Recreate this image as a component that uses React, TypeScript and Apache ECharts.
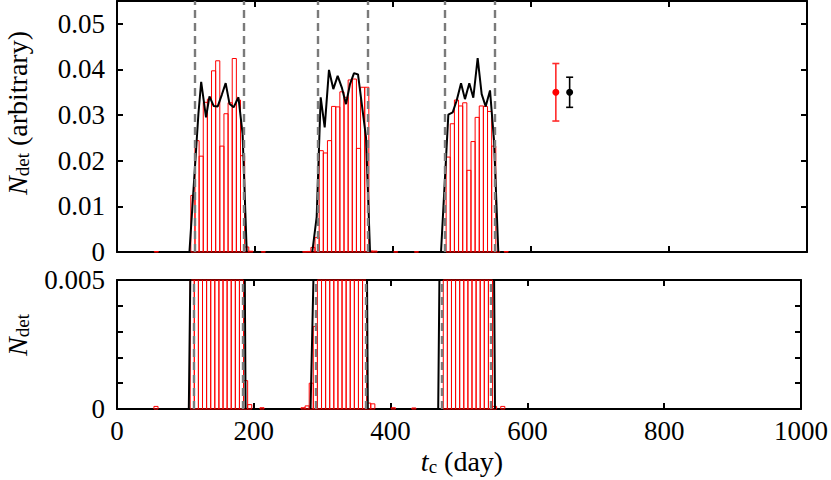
import React, { useEffect, useRef } from "react";
import * as echarts from "echarts";

// ---- data ----
const BIN_W = 6; // histogram bin width in days
const binStarts = [
  54,
  107, 113, 119, 125, 131, 137, 143, 149, 155, 161, 167, 173, 179,
  185, 191, 209,
  269, 275, 281, 287,
  293, 299, 305, 311, 317, 323, 329, 335, 341, 347, 353, 359,
  365, 371, 401, 431,
  477, 483, 489, 495, 501, 507, 513, 519, 525, 531, 537, 543,
  549, 561,
];
const binValues = [
  0.0001,
  0.0124, 0.0244, 0.021, 0.0328, 0.0335, 0.0397, 0.0419, 0.0232, 0.0303, 0.0327, 0.0424, 0.0333, 0.0211,
  0.0011, 0.00017, 0.00005,
  0.00005, 0.00012, 0.001, 0.0032,
  0.0222, 0.0217, 0.0244, 0.0319, 0.0318, 0.0351, 0.0339, 0.0377, 0.0379, 0.0227, 0.0361, 0.0361,
  0.00023, 0.0002, 0.00005, 0.00004,
  0.0208, 0.0281, 0.0333, 0.032, 0.0327, 0.0179, 0.0242, 0.0295, 0.032, 0.0319, 0.0308, 0.0232,
  0.0001, 0.0001,
];

const line1 = [
  [105, 0], [118, 0.0303], [122, 0.0373], [129, 0.0295], [134, 0.0341], [140, 0.032],
  [146, 0.0319], [152, 0.0345], [157.5, 0.037], [163, 0.0325], [169, 0.0317], [176, 0.0339],
  [182, 0.0259], [188, 0],
];
const line2 = [
  [283, 0], [289.4, 0.0077], [295.2, 0.0339], [301, 0.0273], [307.2, 0.0399], [313.5, 0.0357],
  [319.8, 0.0386], [326.1, 0.0359], [331.9, 0.0324], [337.7, 0.0368], [343.5, 0.0392],
  [349.3, 0.0389], [360.9, 0.0251], [366.7, 0],
];
const line3 = [
  [469.6, 0], [480.2, 0.0301], [486.5, 0.0306], [492.3, 0.0332], [498.6, 0.037], [504.3, 0.0335],
  [510.6, 0.037], [516.4, 0.0338], [522.7, 0.0425], [528.5, 0.0346], [534.3, 0.0319],
  [540.6, 0.0354], [546.4, 0.0244], [552.6, 0],
];
const blackLines = [line1, line2, line3];

const seasonEdges = [112, 184, 291, 363, 475, 547];

// error bars: [x, y, half-width]
const errX = [636, 656];
const errY = [0.035, 0.035];
const errE = [0.0063, 0.0033];
const errColors = ["#ff2a2a", "#000000"];
const errDotColors = ["#ff0000", "#000000"];

const xTicks = { min: 0, max: 1000, interval: 200 };
const yTopTicks = { min: 0, max: 0.055, interval: 0.01 };
const yBotTicks = { min: 0, max: 0.005, interval: 0.001 };

const FONT = "'Liberation Serif', 'DejaVu Serif', serif";

export default function App() {
  const ref = useRef<HTMLDivElement>(null);

  useEffect(() => {
    if (!ref.current) return;
    const chart = echarts.init(ref.current, null, { renderer: "svg" });

    const axisLine = { show: true, onZero: false, lineStyle: { color: "#000", width: 2 } };
    const axisTick = { show: true, inside: true, length: 6, lineStyle: { color: "#000", width: 2 } };
    const labelStyle = { fontFamily: FONT, fontSize: 27, color: "#000" };

    const mkX = (gridIndex: number, position: string, showLabel: boolean) => ({
      type: "value",
      gridIndex,
      position,
      ...xTicks,
      axisLine,
      axisTick,
      splitLine: { show: false },
      axisLabel: showLabel
        ? { ...labelStyle, margin: 8, formatter: (v: number) => String(Math.round(v)) }
        : { show: false },
    });

    const mkY = (gridIndex: number, position: string, ticks: any, formatter: any) => ({
      type: "value",
      gridIndex,
      position,
      ...ticks,
      axisLine,
      axisTick,
      splitLine: { show: false },
      axisLabel: formatter ? { ...labelStyle, margin: 12, formatter } : { show: false },
    });

    const topFmt = (v: number) => (v === 0 ? "0" : v > 0.0505 ? "" : v.toFixed(2));
    const botFmt = (v: number) => (v === 0 ? "0" : Math.abs(v - 0.005) < 1e-9 ? "0.005" : "");

    const barData = binStarts.map((s, i) => [s, s + BIN_W, binValues[i]]);

    const barSeries = (idx: number) => ({
      type: "custom",
      xAxisIndex: idx,
      yAxisIndex: idx,
      z: 2,
      silent: true,
      data: barData,
      renderItem: (params: any, api: any) => {
        const p0 = api.coord([api.value(0), api.value(2)]);
        const p1 = api.coord([api.value(1), 0]);
        const cs = params.coordSys;
        const rect = echarts.graphic.clipRectByRect(
          { x: p0[0], y: p0[1], width: p1[0] - p0[0], height: p1[1] - p0[1] },
          { x: cs.x, y: cs.y, width: cs.width, height: cs.height }
        );
        if (!rect) return null;
        return {
          type: "rect",
          shape: rect,
          style: { fill: "none", stroke: "#ff0000", lineWidth: 1 },
        };
      },
    });

    const dashSeries = (idx: number) => ({
      type: "line",
      xAxisIndex: idx,
      yAxisIndex: idx,
      z: 3,
      data: [],
      silent: true,
      markLine: {
        silent: true,
        symbol: ["none", "none"],
        label: { show: false },
        animation: false,
        lineStyle: { type: [8, 5], color: "#7a7a7a", width: 2.4 },
        data: seasonEdges.map((d) => ({ xAxis: d })),
      },
    });

    const lineSeries = (idx: number) =>
      blackLines.map((ln) => ({
        type: "line",
        xAxisIndex: idx,
        yAxisIndex: idx,
        z: 4,
        silent: true,
        showSymbol: false,
        clip: true,
        data: ln,
        lineStyle: { color: "#000", width: 2 },
      }));

    const errSeries = {
      type: "custom",
      xAxisIndex: 0,
      yAxisIndex: 0,
      z: 5,
      silent: true,
      data: errX.map((x, i) => [x, errY[i], errE[i]]),
      renderItem: (params: any, api: any) => {
        const x = api.value(0), y = api.value(1), e = api.value(2);
        const c = api.coord([x, y]);
        const t = api.coord([x, y + e]);
        const b = api.coord([x, y - e]);
        const col = errColors[params.dataIndex];
        const st = { stroke: col, lineWidth: 1.6 };
        return {
          type: "group",
          children: [
            { type: "line", shape: { x1: c[0], y1: t[1], x2: c[0], y2: b[1] }, style: st },
            { type: "line", shape: { x1: c[0] - 3.5, y1: t[1], x2: c[0] + 3.5, y2: t[1] }, style: st },
            { type: "line", shape: { x1: c[0] - 3.5, y1: b[1], x2: c[0] + 3.5, y2: b[1] }, style: st },
            { type: "circle", shape: { cx: c[0], cy: c[1], r: 3.5 }, style: { fill: errDotColors[params.dataIndex] } },
          ],
        };
      },
    };

    const rich = {
      i: { fontFamily: FONT, fontSize: 28, fontStyle: "italic", lineHeight: 30, verticalAlign: "middle", color: "#000" },
      s: { fontFamily: FONT, fontSize: 19, lineHeight: 16, verticalAlign: "bottom", color: "#000" },
      r: { fontFamily: FONT, fontSize: 28, lineHeight: 30, verticalAlign: "middle", color: "#000" },
    };

    chart.setOption({
      animation: false,
      backgroundColor: "#fff",
      grid: [
        { left: 117, top: 1, width: 690, height: 251 },
        { left: 117, top: 280, width: 690, height: 129 },
      ],
      xAxis: [mkX(0, "bottom", false), mkX(0, "top", false), mkX(1, "bottom", true), mkX(1, "top", false)],
      yAxis: [
        mkY(0, "left", yTopTicks, topFmt),
        mkY(0, "right", yTopTicks, null),
        mkY(1, "left", yBotTicks, botFmt),
        mkY(1, "right", yBotTicks, null),
      ],
      series: [
        barSeries(0),
        barSeries(2),
        dashSeries(0),
        dashSeries(2),
        ...lineSeries(0),
        ...lineSeries(2),
        errSeries,
      ],
      graphic: [
        {
          type: "text",
          x: 17,
          y: 113,
          rotation: Math.PI / 2,
          style: {
            text: "{i|N}{s|det}{r| (arbitrary)}",
            rich,
            align: "center",
            verticalAlign: "middle",
          },
        },
        {
          type: "text",
          x: 17,
          y: 335,
          rotation: Math.PI / 2,
          style: {
            text: "{i|N}{s|det}",
            rich,
            align: "center",
            verticalAlign: "middle",
          },
        },
        {
          type: "text",
          x: 462,
          y: 461,
          style: {
            text: "{i|t}{s|c}{r| (day)}",
            rich,
            align: "center",
            verticalAlign: "middle",
          },
        },
      ],
    });

    return () => chart.dispose();
  }, []);

  return (
    <div
      ref={ref}
      style={{ position: "fixed", left: 0, top: 0, width: 831, height: 480, background: "#fff" }}
    />
  );
}
